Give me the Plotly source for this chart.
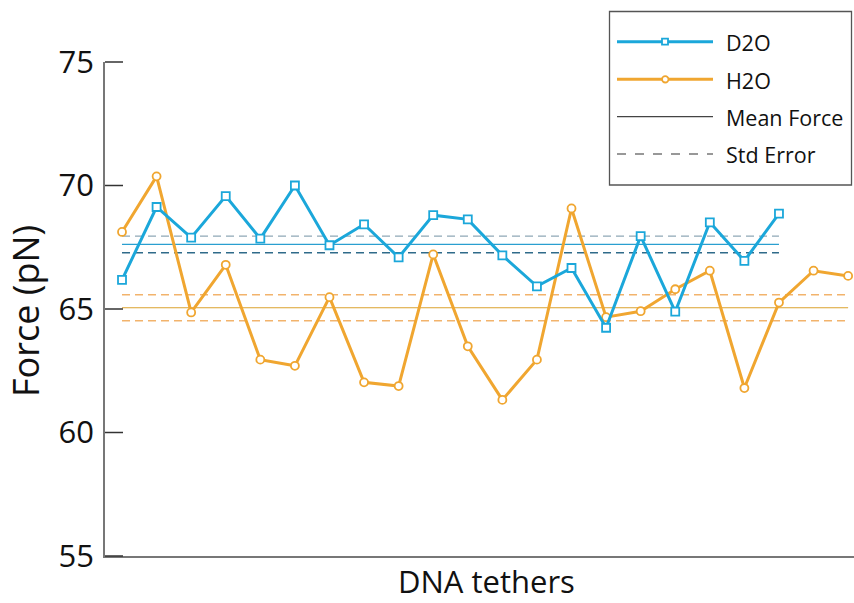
import numpy as np
import plotly.graph_objects as go

# Rupture force per tether (pN)
d2o_force = [66.18, 69.13, 67.89, 69.57, 67.85, 70.00, 67.58, 68.43, 67.09, 68.80,
             68.63, 67.17, 65.92, 66.66, 64.24, 67.95, 64.89, 68.51, 66.95, 68.86]
h2o_force = [68.12, 70.37, 64.86, 66.79, 62.95, 62.70, 65.48, 62.03, 61.88, 67.21,
             63.49, 61.32, 62.95, 69.07, 64.67, 64.91, 65.80, 66.55, 61.80, 65.26,
             66.55, 66.34]
y_ticks = [55, 60, 65, 70, 75]
Y_RANGE = [55, 75]

BLUE = "#1ba7da"
ORANGE = "#f0a630"
FONT = "Open Sans"
INK = "#111111"

W, H = 854, 603
L, R, T, B = 105, 854, 62, 556  # plot area in pixels
X_RANGE = [0.508, 22.17]


def px_x(px):
    return (px - L) / (R - L)


def px_y(py):
    return (B - py) / (B - T)


def mean_sem(vals):
    a = np.asarray(vals, dtype=float)
    return a.mean(), a.std(ddof=1) / np.sqrt(len(a))


fig = go.Figure()

d_x = list(range(1, len(d2o_force) + 1))
h_x = list(range(1, len(h2o_force) + 1))

# Mean and standard-error reference lines
for xs, vals, mcol, up_col, lo_col in [
    (h_x, h2o_force, "#dba22e", "#f2b36c", "#f2b36c"),
    (d_x, d2o_force, "#2a9fd0", "#8fa8b6", "#2f6b8a"),
]:
    m, se = mean_sem(vals)
    ends = [xs[0], xs[-1]]
    fig.add_trace(go.Scatter(x=ends, y=[m, m], mode="lines",
                             line=dict(color=mcol, width=1.2),
                             showlegend=False, hoverinfo="skip"))
    fig.add_trace(go.Scatter(x=ends, y=[m + se, m + se], mode="lines",
                             line=dict(color=up_col, width=1.4, dash="8px,5px"),
                             showlegend=False, hoverinfo="skip"))
    fig.add_trace(go.Scatter(x=ends, y=[m - se, m - se], mode="lines",
                             line=dict(color=lo_col, width=1.4, dash="8px,5px"),
                             showlegend=False, hoverinfo="skip"))

fig.add_trace(go.Scatter(
    x=h_x, y=h2o_force, mode="lines+markers", name="H2O",
    line=dict(color=ORANGE, width=3),
    marker=dict(symbol="circle", size=8, color="white",
                line=dict(color=ORANGE, width=1.8)),
    cliponaxis=False, showlegend=False))
fig.add_trace(go.Scatter(
    x=d_x, y=d2o_force, mode="lines+markers", name="D2O",
    line=dict(color=BLUE, width=3),
    marker=dict(symbol="square", size=8, color="white",
                line=dict(color=BLUE, width=1.8)),
    cliponaxis=False, showlegend=False))

shapes = []
# inward tick marks on the force axis, 18 px long
for t in y_ticks:
    frac = (t - Y_RANGE[0]) / (Y_RANGE[1] - Y_RANGE[0])
    shapes.append(dict(type="line", xref="paper", yref="paper",
                       x0=px_x(L), x1=px_x(L + 18), y0=frac, y1=frac,
                       line=dict(color="#333333", width=1.5), layer="above"))

# Legend box drawn in paper space
shapes.append(dict(type="rect", xref="paper", yref="paper",
                   x0=px_x(609.5), x1=px_x(851.5), y0=px_y(185), y1=px_y(11.5),
                   line=dict(color="#555555", width=1.3), fillcolor="white", layer="above"))
annotations = []
legend_rows = [
    ("D2O", BLUE, 3, "solid", "square"),
    ("H2O", ORANGE, 3, "solid", "circle"),
    ("Mean Force", "#444444", 1.2, "solid", None),
    ("Std Error", "#777777", 1.4, "dash", None),
]
row_y = [41.7, 79.3, 116.7, 154.0]
for (label, col, lw, dash, sym), yy in zip(legend_rows, row_y):
    shapes.append(dict(type="line", xref="paper", yref="paper",
                       x0=px_x(617), x1=px_x(713), y0=px_y(yy), y1=px_y(yy),
                       line=dict(color=col, width=lw, dash=dash), layer="above"))
    if sym == "square":
        shapes.append(dict(type="rect", xref="paper", yref="paper",
                           x0=px_x(662), x1=px_x(668), y0=px_y(yy + 3), y1=px_y(yy - 3),
                           line=dict(color=col, width=1.8), fillcolor="white", layer="above"))
    elif sym == "circle":
        shapes.append(dict(type="circle", xref="paper", yref="paper",
                           x0=px_x(662), x1=px_x(668.5), y0=px_y(yy + 3.2), y1=px_y(yy - 3.2),
                           line=dict(color=col, width=1.8), fillcolor="white", layer="above"))
    annotations.append(dict(text=label, xref="paper", yref="paper",
                            x=px_x(724), y=px_y(yy + 1), xanchor="left", yanchor="middle",
                            showarrow=False, font=dict(family=FONT, size=21.5, color=INK)))

# Axis titles
annotations.append(dict(text="DNA tethers", xref="paper", yref="paper",
                        x=px_x(486), y=px_y(581), xanchor="center", yanchor="middle",
                        showarrow=False, font=dict(family=FONT, size=31, color=INK)))
annotations.append(dict(text="Force (pN)", xref="paper", yref="paper",
                        x=px_x(25), y=px_y(311), xanchor="center", yanchor="middle",
                        textangle=-90, showarrow=False,
                        font=dict(family=FONT, size=36, color=INK)))

fig.update_layout(
    width=W, height=H,
    margin=dict(l=L, r=W - R, t=T, b=H - B, pad=0),
    paper_bgcolor="white", plot_bgcolor="white",
    font=dict(family=FONT, color=INK),
    showlegend=False,
    shapes=shapes,
    annotations=annotations,
    xaxis=dict(range=X_RANGE, showgrid=False, zeroline=False,
               showticklabels=False, ticks="",
               showline=True, linecolor="#777777", linewidth=1.6),
    yaxis=dict(range=Y_RANGE, tickvals=y_ticks, ticktext=[str(v) for v in y_ticks],
               showgrid=False, zeroline=False, ticks="", ticklabelstandoff=3,
               showline=True, linecolor="#777777", linewidth=1.6,
               tickfont=dict(family=FONT, size=31, color=INK)),
)

fig.write_html("out.html")
